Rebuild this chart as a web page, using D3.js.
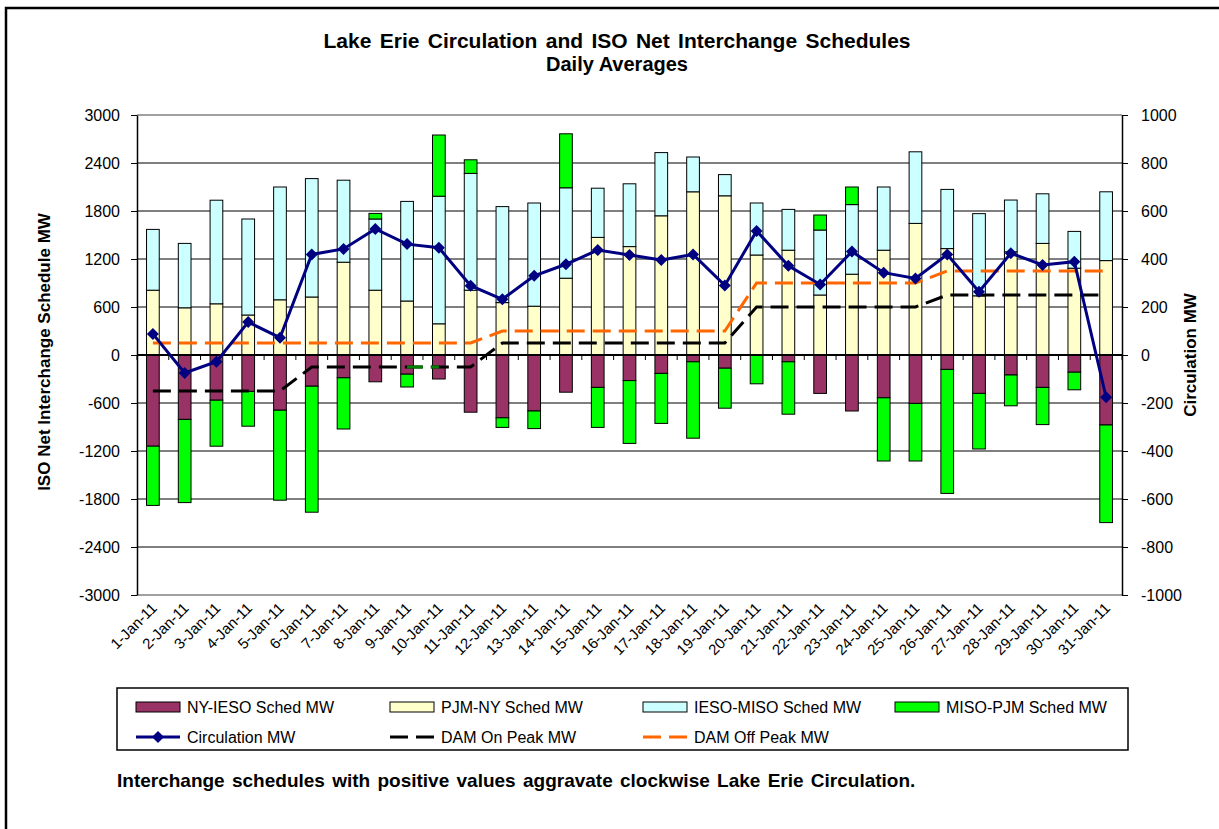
<!DOCTYPE html>
<html>
<head>
<meta charset="utf-8">
<script src="https://cdn.jsdelivr.net/npm/d3@7"></script>
<style>
  body { margin: 0; background: #fff; }
  svg { display: block; font-family: Arial, "Liberation Sans", sans-serif; }
</style>
</head>
<body>
<div id="chart"></div>
<script>
const days = ['1-Jan-11', '2-Jan-11', '3-Jan-11', '4-Jan-11', '5-Jan-11', '6-Jan-11', '7-Jan-11', '8-Jan-11',
  '9-Jan-11', '10-Jan-11', '11-Jan-11', '12-Jan-11', '13-Jan-11', '14-Jan-11', '15-Jan-11', '16-Jan-11',
  '17-Jan-11', '18-Jan-11', '19-Jan-11', '20-Jan-11', '21-Jan-11', '22-Jan-11', '23-Jan-11', '24-Jan-11',
  '25-Jan-11', '26-Jan-11', '27-Jan-11', '28-Jan-11', '29-Jan-11', '30-Jan-11', '31-Jan-11'];

// schedules, MW (left axis)
const nyIeso = [-1140, -805, -565, -455, -690, -390, -285, -335, -240, -300, -715, -785, -700, -465, -405, -320,
  -230, -85, -165, 0, -85, -480, -700, -535, -605, -180, -480, -250, -405, -215, -875];
const pjmNy = [810, 590, 640, 500, 690, 725, 1160, 810, 675, 390, 810, 655, 610, 960, 1470, 1355,
  1740, 2040, 1990, 1250, 1310, 750, 1010, 1310, 1645, 1330, 740, 1290, 1395, 1085, 1180];
const iesoMiso = [760, 805, 1295, 1200, 1410, 1480, 1025, 890, 1245, 1595, 1460, 1200, 1290, 1130, 615, 785,
  790, 435, 265, 650, 510, 812, 870, 790, 895, 740, 1027, 647, 620, 460, 860];
const misoPjm = [-740, -1040, -575, -435, -1125, -1575, -640, 70, -160, 765, 170, -120, -220, 675, -500, -785,
  -625, -955, -500, -360, -655, 188, 220, -790, -720, -1550, -695, -385, -465, -220, -1220];

// circulation, MW (right axis)
const circulation = [88, -75, -28, 137, 72, 419, 442, 525, 462, 447, 289, 232, 330, 378, 437, 417,
  396, 419, 290, 517, 372, 294, 431, 343, 319, 419, 264, 424, 375, 389, -176];
const damOnPeak = [-150, -150, -150, -150, -150, -50, -50, -50, -50, -50, -50, 50, 50, 50, 50, 50,
  50, 50, 50, 200, 200, 200, 200, 200, 200, 250, 250, 250, 250, 250, 250];
const damOffPeak = [50, 50, 50, 50, 50, 50, 50, 50, 50, 50, 50, 100, 100, 100, 100, 100,
  100, 100, 100, 300, 300, 300, 300, 300, 300, 350, 350, 350, 350, 350, 350];

const leftTicks = [-3000, -2400, -1800, -1200, -600, 0, 600, 1200, 1800, 2400, 3000];
const rightTicks = [-1000, -800, -600, -400, -200, 0, 200, 400, 600, 800, 1000];

const seriesKeys = ['NY-IESO Sched MW', 'PJM-NY Sched MW', 'IESO-MISO Sched MW', 'MISO-PJM Sched MW'];
const seriesColors = ['#993366', '#ffffcc', '#ccffff', '#00ff00'];

const width = 1219;
const height = 829;
const plot = { left: 137, right: 1122, top: 115, bottom: 595 };

const svg = d3.select('#chart')
  .append('svg')
  .attr('width', width)
  .attr('height', height);

// outer chart border (right and bottom edges fall outside the picture)
svg.append('rect')
  .attr('x', 6).attr('y', 8)
  .attr('width', 1240).attr('height', 860)
  .attr('fill', '#fff')
  .attr('stroke', '#000')
  .attr('stroke-width', 2.5);

const x = d3.scaleBand()
  .domain(days)
  .range([plot.left, plot.right])
  .paddingInner(0.6)
  .paddingOuter(0.3);
const cx = (d) => x(d) + x.bandwidth() / 2;

const yL = d3.scaleLinear().domain([-3000, 3000]).range([plot.bottom, plot.top]);
const yR = d3.scaleLinear().domain([-1000, 1000]).range([plot.bottom, plot.top]);

// gridlines
svg.append('g')
  .selectAll('line')
  .data(leftTicks)
  .join('line')
  .attr('x1', plot.left).attr('x2', plot.right)
  .attr('y1', (d) => yL(d)).attr('y2', (d) => yL(d))
  .attr('stroke', (d) => (Math.abs(d) === 3000 ? '#808080' : '#000'))
  .attr('stroke-width', (d) => (Math.abs(d) === 3000 ? 1.5 : 1));

// stacked bars
const rows = days.map((d, i) => ({
  day: d,
  [seriesKeys[0]]: nyIeso[i],
  [seriesKeys[1]]: pjmNy[i],
  [seriesKeys[2]]: iesoMiso[i],
  [seriesKeys[3]]: misoPjm[i],
}));
const stacked = d3.stack().keys(seriesKeys).offset(d3.stackOffsetDiverging)(rows);

svg.append('g')
  .selectAll('g')
  .data(stacked)
  .join('g')
  .attr('fill', (s, i) => seriesColors[i])
  .selectAll('rect')
  .data((s) => s.filter((p) => p[1] !== p[0]))
  .join('rect')
  .attr('x', (p) => x(p.data.day))
  .attr('width', x.bandwidth())
  .attr('y', (p) => yL(Math.max(p[0], p[1])))
  .attr('height', (p) => Math.abs(yL(p[0]) - yL(p[1])))
  .attr('stroke', '#000')
  .attr('stroke-width', 1);

// zero line with category ticks
svg.append('line')
  .attr('x1', plot.left).attr('x2', plot.right)
  .attr('y1', yL(0)).attr('y2', yL(0))
  .attr('stroke', '#000')
  .attr('stroke-width', 2);
const step = x.step();
svg.append('g')
  .selectAll('line')
  .data(d3.range(days.length + 1))
  .join('line')
  .attr('x1', (k) => plot.left + k * step).attr('x2', (k) => plot.left + k * step)
  .attr('y1', yL(0)).attr('y2', yL(0) + 5)
  .attr('stroke', '#000');

const plain = (d) => String(d);

// left axis
const axL = svg.append('g')
  .attr('transform', `translate(${plot.left},0)`)
  .call(d3.axisLeft(yL).tickValues(leftTicks).tickFormat(plain).tickSize(6).tickPadding(11).tickSizeOuter(0));
axL.select('.domain').attr('stroke', '#000').attr('stroke-width', 1.5);
axL.selectAll('text').attr('font-size', 16).attr('font-family', null).attr('fill', '#000');

// right axis
const axR = svg.append('g')
  .attr('transform', `translate(${plot.right},0)`)
  .call(d3.axisRight(yR).tickValues(rightTicks).tickFormat(plain).tickSize(6).tickPadding(13).tickSizeOuter(0));
axR.select('.domain').attr('stroke', '#000').attr('stroke-width', 1.5);
axR.selectAll('text').attr('font-size', 16).attr('font-family', null).attr('fill', '#000');

// category labels
svg.append('g')
  .selectAll('text')
  .data(days)
  .join('text')
  .attr('transform', (d) => `translate(${cx(d) + 5},${plot.bottom + 14}) rotate(-45)`)
  .attr('text-anchor', 'end')
  .attr('font-size', 15)
  .text((d) => d);

// DAM lines
const lineR = (vals) => d3.line()
  .x((v, i) => cx(days[i]))
  .y((v) => yR(v))(vals);

const dash = '18,8';
svg.append('path')
  .attr('d', lineR(damOnPeak))
  .attr('fill', 'none')
  .attr('stroke', '#000')
  .attr('stroke-width', 3)
  .attr('stroke-dasharray', dash);

// one segment of the on-peak line is coloured green in the source
const accentStart = days.indexOf('9-Jan-11');
const partial = svg.append('path').attr('d', lineR(damOnPeak.slice(0, accentStart + 1)));
const offset = partial.node().getTotalLength();
partial.remove();
svg.append('path')
  .attr('d', d3.line()([[cx(days[accentStart]), yR(damOnPeak[accentStart])],
    [cx(days[accentStart + 1]), yR(damOnPeak[accentStart + 1])]]))
  .attr('fill', 'none')
  .attr('stroke', '#008000')
  .attr('stroke-width', 3)
  .attr('stroke-dasharray', dash)
  .attr('stroke-dashoffset', offset);

svg.append('path')
  .attr('d', lineR(damOffPeak))
  .attr('fill', 'none')
  .attr('stroke', '#ff6600')
  .attr('stroke-width', 3)
  .attr('stroke-dasharray', dash);

// circulation line
svg.append('path')
  .attr('d', lineR(circulation))
  .attr('fill', 'none')
  .attr('stroke', '#000080')
  .attr('stroke-width', 3);

const diamond = d3.symbol().type(d3.symbolSquare).size(72);
svg.append('g')
  .selectAll('path')
  .data(circulation)
  .join('path')
  .attr('d', diamond)
  .attr('transform', (v, i) => `translate(${cx(days[i])},${yR(v)}) rotate(45)`)
  .attr('fill', '#000080');

// titles
svg.append('text')
  .attr('x', 617).attr('y', 48)
  .attr('text-anchor', 'middle')
  .attr('font-size', 21).attr('font-weight', 'bold')
  .attr('word-spacing', 2.5)
  .text('Lake Erie Circulation and ISO Net Interchange Schedules');
svg.append('text')
  .attr('x', 617).attr('y', 71)
  .attr('text-anchor', 'middle')
  .attr('font-size', 20).attr('font-weight', 'bold')
  .text('Daily Averages');

svg.append('text')
  .attr('transform', `translate(50,${(plot.top + plot.bottom) / 2 - 3}) rotate(-90)`)
  .attr('text-anchor', 'middle')
  .attr('font-size', 17).attr('font-weight', 'bold')
  .text('ISO Net Interchange Schedule MW');
svg.append('text')
  .attr('transform', `translate(1196,${(plot.top + plot.bottom) / 2}) rotate(-90)`)
  .attr('text-anchor', 'middle')
  .attr('font-size', 17).attr('font-weight', 'bold')
  .text('Circulation MW');

// legend
const legend = svg.append('g');
legend.append('rect')
  .attr('x', 117).attr('y', 688)
  .attr('width', 1011).attr('height', 62)
  .attr('fill', '#fff')
  .attr('stroke', '#000')
  .attr('stroke-width', 1.5);

const colX = [136, 390, 643, 895];
const row1 = 707;
const row2 = 737;
seriesKeys.forEach((k, i) => {
  legend.append('rect')
    .attr('x', colX[i]).attr('y', row1 - 5)
    .attr('width', 44).attr('height', 10)
    .attr('fill', seriesColors[i])
    .attr('stroke', '#000');
  legend.append('text')
    .attr('x', colX[i] + 51).attr('y', row1 + 6)
    .attr('font-size', 16)
    .text(k);
});

const lineItems = [
  { name: 'Circulation MW', color: '#000080', dash: null, marker: true },
  { name: 'DAM On Peak MW', color: '#000', dash: dash, marker: false },
  { name: 'DAM Off Peak MW', color: '#ff6600', dash: dash, marker: false },
];
lineItems.forEach((it, i) => {
  legend.append('line')
    .attr('x1', colX[i]).attr('x2', colX[i] + 44)
    .attr('y1', row2).attr('y2', row2)
    .attr('stroke', it.color)
    .attr('stroke-width', 3)
    .attr('stroke-dasharray', it.dash);
  if (it.marker) {
    legend.append('path')
      .attr('d', diamond)
      .attr('transform', `translate(${colX[i] + 22},${row2}) rotate(45)`)
      .attr('fill', it.color);
  }
  legend.append('text')
    .attr('x', colX[i] + 51).attr('y', row2 + 6)
    .attr('font-size', 16)
    .text(it.name);
});

// footnote
svg.append('text')
  .attr('x', 117).attr('y', 787)
  .attr('font-size', 19).attr('font-weight', 'bold')
  .attr('word-spacing', 2)
  .text('Interchange schedules with positive values aggravate clockwise Lake Erie Circulation.');
</script>
</body>
</html>
